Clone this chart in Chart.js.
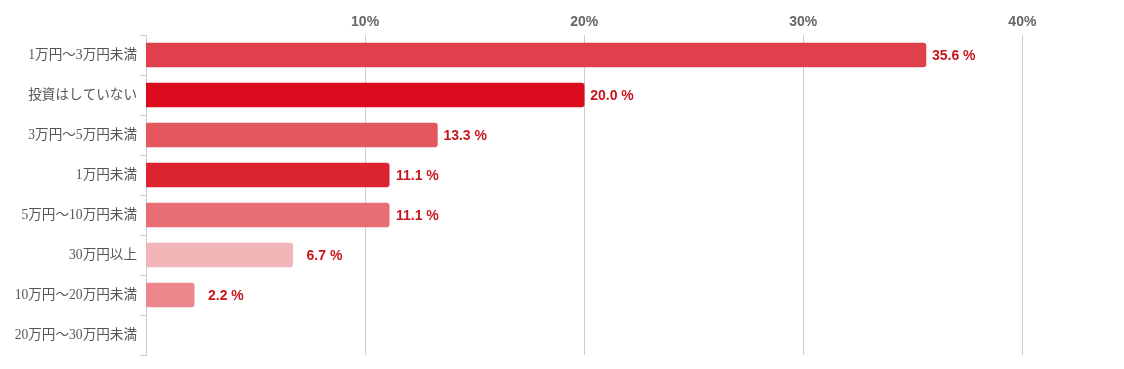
<!DOCTYPE html>
<html>
<head>
<meta charset="utf-8">
<script src="https://cdn.jsdelivr.net/npm/chart.js@4"></script>
<style>
  html, body { margin: 0; padding: 0; background: #fff; }
  #wrap { width: 1124px; height: 369px; }
</style>
</head>
<body>
<div id="wrap"><canvas id="chart"></canvas></div>
<script>
const categories = ["1万円～3万円未満", "投資はしていない", "3万円～5万円未満", "1万円未満", "5万円～10万円未満", "30万円以上", "10万円～20万円未満", "20万円～30万円未満"];
const values = [35.6, 20.0, 13.3, 11.1, 11.1, 6.7, 2.2, 0];
const barColors = ["#e0404b", "#d90b1c", "#e5575f", "#dc2430", "#e96d75", "#f2b5b8", "#ee878d", "rgba(0,0,0,0)"];
const xTicks = [10, 20, 30, 40];

// value labels to the right of each bar, right-aligned in a fixed-width box
const valueLabels = {
  id: "valueLabels",
  afterDatasetsDraw(chart) {
    const ctx = chart.ctx;
    const meta = chart.getDatasetMeta(0);
    ctx.save();
    ctx.font = "bold 14px 'Liberation Sans', Arial, sans-serif";
    ctx.fillStyle = "#c8161e";
    ctx.textAlign = "right";
    ctx.textBaseline = "middle";
    const boxW = ctx.measureText("00.0 %").width;
    meta.data.forEach((bar, i) => {
      if (!values[i]) return;
      ctx.fillText(values[i].toFixed(1) + " %", bar.x + 6 + boxW, bar.y + 1);
    });
    ctx.restore();
  }
};

new Chart(document.getElementById("chart"), {
  type: "bar",
  data: {
    labels: categories,
    datasets: [{
      data: values,
      backgroundColor: barColors,
      barThickness: 24,
      borderRadius: 3,
      borderSkipped: "start"
    }]
  },
  options: {
    indexAxis: "y",
    responsive: true,
    maintainAspectRatio: false,
    animation: false,
    layout: { padding: { top: 0, right: 14, bottom: 14, left: 0 } },
    plugins: { legend: { display: false }, tooltip: { enabled: false } },
    scales: {
      x: {
        position: "top",
        min: 0,
        max: 44,
        afterBuildTicks: scale => { scale.ticks = xTicks.map(v => ({ value: v })); },
        afterFit: scale => { scale.height = 35; },
        border: { display: false },
        grid: { color: "#cccccc", drawTicks: false },
        ticks: {
          padding: 4,
          color: "#666666",
          font: { family: "'Liberation Sans', Arial, sans-serif", size: 14, weight: "bold" },
          callback: v => v + "%"
        }
      },
      y: {
        afterFit: scale => { scale.width = 146; },
        border: { color: "#c8cfdc" },
        grid: { offset: true, drawOnChartArea: false, tickLength: 6, color: "#c8cfdc" },
        ticks: {
          padding: 3,
          color: "#555555",
          font: { family: "'Liberation Serif', 'Noto Sans CJK JP', serif", size: 13.6 }
        }
      }
    }
  },
  plugins: [valueLabels]
});
</script>
</body>
</html>
